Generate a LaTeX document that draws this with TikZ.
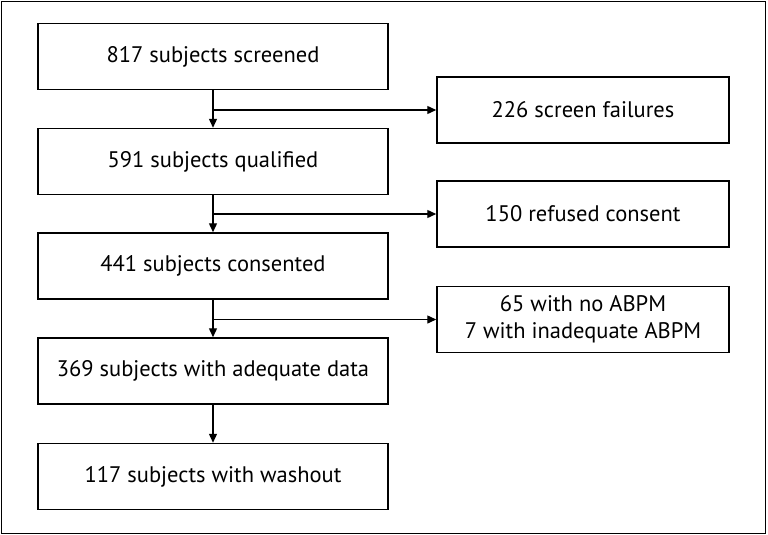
\documentclass[tikz,border=0pt]{standalone}
\usepackage{fontspec}
\setmainfont{PT Sans}
\usetikzlibrary{arrows.meta}
\begin{document}
\begin{tikzpicture}[x=1pt,y=-1pt,
  box/.style={draw,line width=1.5pt,minimum height=66pt,inner sep=0pt,align=center,font=\fontsize{22.5}{27}\selectfont},
  lbox/.style={box,minimum width=350pt},
  rbox/.style={box,minimum width=292pt},
  conn/.style={line width=1.4pt,-{Triangle[length=9pt,width=8pt]}}]
\useasboundingbox (0,0) rectangle (768,535);
\draw[line width=1.5pt] (1.5,1.5) rectangle (765.5,533.5);
\node[lbox] (s1) at (213,56.5) {817 subjects screened};
\node[lbox] (s2) at (213,161.5) {591 subjects qualified};
\node[lbox] (s3) at (213,266) {441 subjects consented};
\node[lbox] (s4) at (213,371) {369 subjects with adequate data};
\node[lbox] (s5) at (213,476.5) {117 subjects with washout};
\node[rbox] (r1) at (583,110) {226 screen failures};
\node[rbox] (r2) at (583,214) {150 refused consent};
\node[rbox] (r3) at (583,319.5) {65 with no ABPM\\7 with inadequate ABPM};
\draw[conn] (s1) -- (s2);
\draw[conn] (s2) -- (s3);
\draw[conn] (s3) -- (s4);
\draw[conn] (s4) -- (s5);
\draw[conn] (s1.south |- r1.west) -- (r1.west);
\draw[conn] (s2.south |- r2.west) -- (r2.west);
\draw[conn] (s3.south |- r3.west) -- (r3.west);
\end{tikzpicture}
\end{document}
